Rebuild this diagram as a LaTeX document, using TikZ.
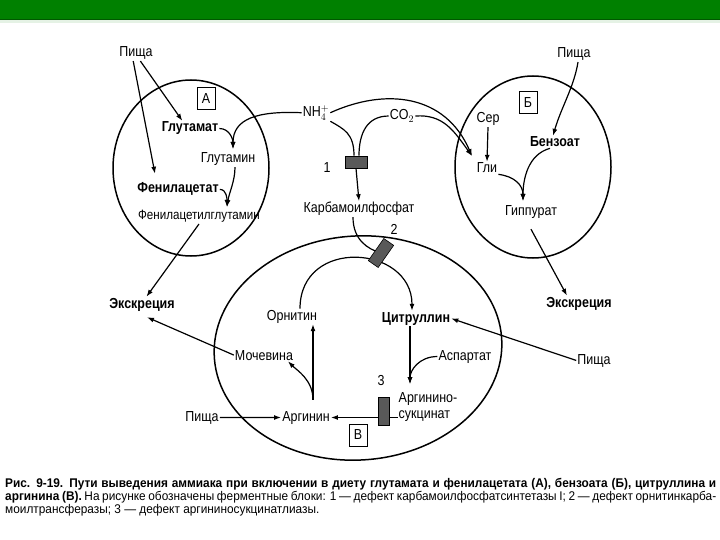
\documentclass[tikz,border=0pt]{standalone}
\usepackage{fontspec}
\setmainfont{Liberation Sans}[FakeStretch=0.86]
\newfontfamily\capfam{Liberation Sans}[FakeStretch=0.94]
\usetikzlibrary{arrows.meta,shapes.geometric,backgrounds}
\definecolor{headgreen}{RGB}{0,128,0}
\definecolor{headline}{RGB}{0,88,0}
\newcommand\lblfont{\fontsize{14.5}{16}\selectfont}
\newcommand\capfont{\capfam\fontsize{12.6}{13.2}\selectfont}

\begin{document}
\begin{tikzpicture}[
		x=1pt, y=-1pt,
		lbl/.style={font=\lblfont, inner sep=1pt, anchor=base},
		lblb/.style={lbl, font=\lblfont\bfseries},
		cell/.style={ellipse, draw=black, line width=1.5pt, inner sep=0pt},
		tag/.style={draw=black, line width=1pt, minimum width=18pt, minimum height=22pt, inner sep=0pt, font=\lblfont},
		blok/.style={rectangle, draw=black, fill=black!65, line width=0.6pt, inner sep=0pt},
		flow/.style={-{Latex[length=7pt,width=5pt]}, line width=1.2pt, draw=black},
		link/.style={line width=1.2pt, draw=black}
		]
		\useasboundingbox (0,0) rectangle (720,540);
		
		% клетки
		\node[cell, minimum width=156pt, minimum height=176pt] (cellA) at (191,168) {};
		\node[cell, minimum width=156pt, minimum height=182pt] (cellB) at (533,167) {};
		\node[cell, minimum width=288pt, minimum height=224pt, rotate=4] (cellV) at (358,348) {};
		
		% А
		\node[lbl] (pishaA) at (136,57) {Пища};
		\node[tag] (tagA) at (206,99) {А};
		\node[lblb] (glutamat) at (190,132) {Глутамат};
		\node[lbl] (glutamin) at (228,163) {Глутамин};
		\node[lblb] (fenac) at (178,193) {Фенилацетат};
		\node[lbl, font=\fontsize{13.5}{15}\selectfont] (fenacgln) at (199,220) {Фенилацетилглутамин};
		\node[lblb] (exkrL) at (142,308) {Экскреция};
		
		% между клетками
		\node[lbl] (nh) at (316,117) {NH$_4^+$};
		\node[lbl] (co) at (402,120) {CO$_2$};
		\node[blok, minimum width=22pt, minimum height=12pt] (blok1) at (356,162) {};
		\node[lbl] (num1) at (327,173) {1};
		\node[lbl] (carb) at (359,213) {Карбамоилфосфат};
		\node[lbl] (num2) at (394,235) {2};
		\node[blok, minimum width=27pt, minimum height=12pt, rotate=55] (blok2) at (381,253) {};
		
		% Б
		\node[lbl] (pishaB) at (574,58) {Пища};
		\node[tag] (tagB) at (528,103) {Б};
		\node[lbl] (ser) at (488,123) {Сер};
		\node[lbl] (gli) at (487,173) {Гли};
		\node[lblb] (benz) at (555,147) {Бензоат};
		\node[lbl] (hipp) at (531,215) {Гиппурат};
		\node[lblb] (exkrR) at (579,307) {Экскреция};
		
		% В
		\node[lbl] (ornit) at (292,320) {Орнитин};
		\node[lblb] (citr) at (416,322) {Цитруллин};
		\node[lbl] (aspart) at (465,360) {Аспартат};
		\node[lbl] (pishaR) at (594,364) {Пища};
		\node[lbl] (mochev) at (264,360) {Мочевина};
		\node[lbl] (num3) at (381,385) {3};
		\node[blok, minimum width=11pt, minimum height=28pt] (blok3) at (384,411) {};
		\node[lbl, anchor=center, align=left] (argsuc) at (428,407) {Аргинино-\\сукцинат};
		\node[lbl] (pishaL) at (202,421) {Пища};
		\node[lbl] (argin) at (306,421) {Аргинин};
		\node[tag] (tagV) at (358,435) {В};
		
		% подпись
		\node[anchor=north west, inner sep=0pt, text width=711pt, align=justify, font=\capfont] (caption) at (5,478)
		{\hyphenpenalty=10000 \textbf{Рис. 9-19. Пути выведения аммиака при включении в диету глутамата и фенилацетата (А), бензоата (Б), цитруллина и\linebreak аргинина (В).} На рисунке обозначены ферментные блоки: 1~— дефект карбамоилфосфатсинтетазы I; 2~— дефект орнитинкарба-\linebreak моилтрансферазы; 3~— дефект аргининосукцинатлиазы.};
		
		\coordinate (glnin) at (233,149);
		\coordinate (fglnin) at (227,207);
		\coordinate (gliin) at (472,156);
		\coordinate (hippin) at (523,201);
		\coordinate (argsin) at (410,384);
		
		\begin{scope}[on background layer]
			\fill[white] (0,0) rectangle (720,540);
			\fill[headgreen] (0,0) rectangle (720,19);
			\fill[headgreen!10] (0,20) rectangle (720,23);
			\draw[headline, line width=1.2pt] (0,19.6) -- (720,19.6);
			
			% А
			\draw[flow] (pishaA.-60) -- (glutamat.135);
			\draw[flow] (pishaA.-110) -- ([xshift=-23pt,yshift=8pt]fenac.north);
			\draw[flow] (glutamat.east) .. controls +(10,0) and +(0,-10) .. (glnin);
			\draw[flow] (nh.west) .. controls +(-45,-2) and +(0,-30) .. (glnin);
			\draw[flow] ([xshift=7pt]glutamin.south) .. controls +(0,14) and +(2,-14) .. (fglnin);
			\draw[flow] (fenac.east) .. controls +(7,0) and +(0,-8) .. (fglnin);
			\draw[flow] (fenacgln.south) -- (exkrL.60);
			
			% NH4, CO2
			\draw[flow] (nh.east) .. controls +(55,-25) and +(-27,-62) .. (gliin);
			\draw[flow] (co.east) .. controls +(28,-2) and +(-18,-25) .. (gliin);
			\draw[link] (nh.south east) .. controls +(14,8) and +(0,-22) .. ([xshift=-2pt]blok1.north);
			\draw[link] (co.west) .. controls +(-22,0) and +(0,-22) .. ([xshift=3pt]blok1.north);
			\draw[flow] (blok1.south) -- (carb.north);
			\draw[link] ([xshift=-6pt]carb.south) .. controls +(0,22) and +(-14,-4) .. (blok2.center);
			
			% В
			\draw[flow] ([xshift=8pt]ornit.north) .. controls +(0,-72) and +(0,-66) .. ([xshift=-4pt]citr.north);
			\draw[flow] ([xshift=-6pt]citr.south) -- (argsin);
			\draw[flow] (aspart.west) .. controls +(-18,0) and +(0,-14) .. (argsin);
			\draw[flow] (argin.east -| argsuc.west) -- (argin.east);
			\draw[flow] (pishaL.east) -- (argin.west);
			\draw[flow] ([xshift=7pt,yshift=10pt]argin.north) -- ([xshift=21pt]ornit.south);
			\draw[flow] ([xshift=7pt,yshift=10pt]argin.north) .. controls +(0,-20) and +(9,9) .. ([xshift=24pt]mochev.south);
			\draw[flow] (mochev.west) -- ([xshift=5pt,yshift=-5pt]exkrL.south);
			\draw[flow] (pishaR.west) -- (citr.east);
			
			% Б
			\draw[flow] ([xshift=4pt]pishaB.south) .. controls +(-4,25) and +(8,-28) .. ([xshift=-2pt]benz.north);
			\draw[flow] (ser.south) -- (gli.north);
			\draw[flow] (gli.south east) .. controls +(16,2) and +(0,-16) .. (hippin);
			\draw[flow] ([xshift=-5pt]benz.south) .. controls +(-22,6) and +(0,-22) .. (hippin);
			\draw[flow] ([yshift=-10pt]hipp.south) -- ([xshift=-12pt]exkrR.north);
		\end{scope}
\end{tikzpicture}
\end{document}
